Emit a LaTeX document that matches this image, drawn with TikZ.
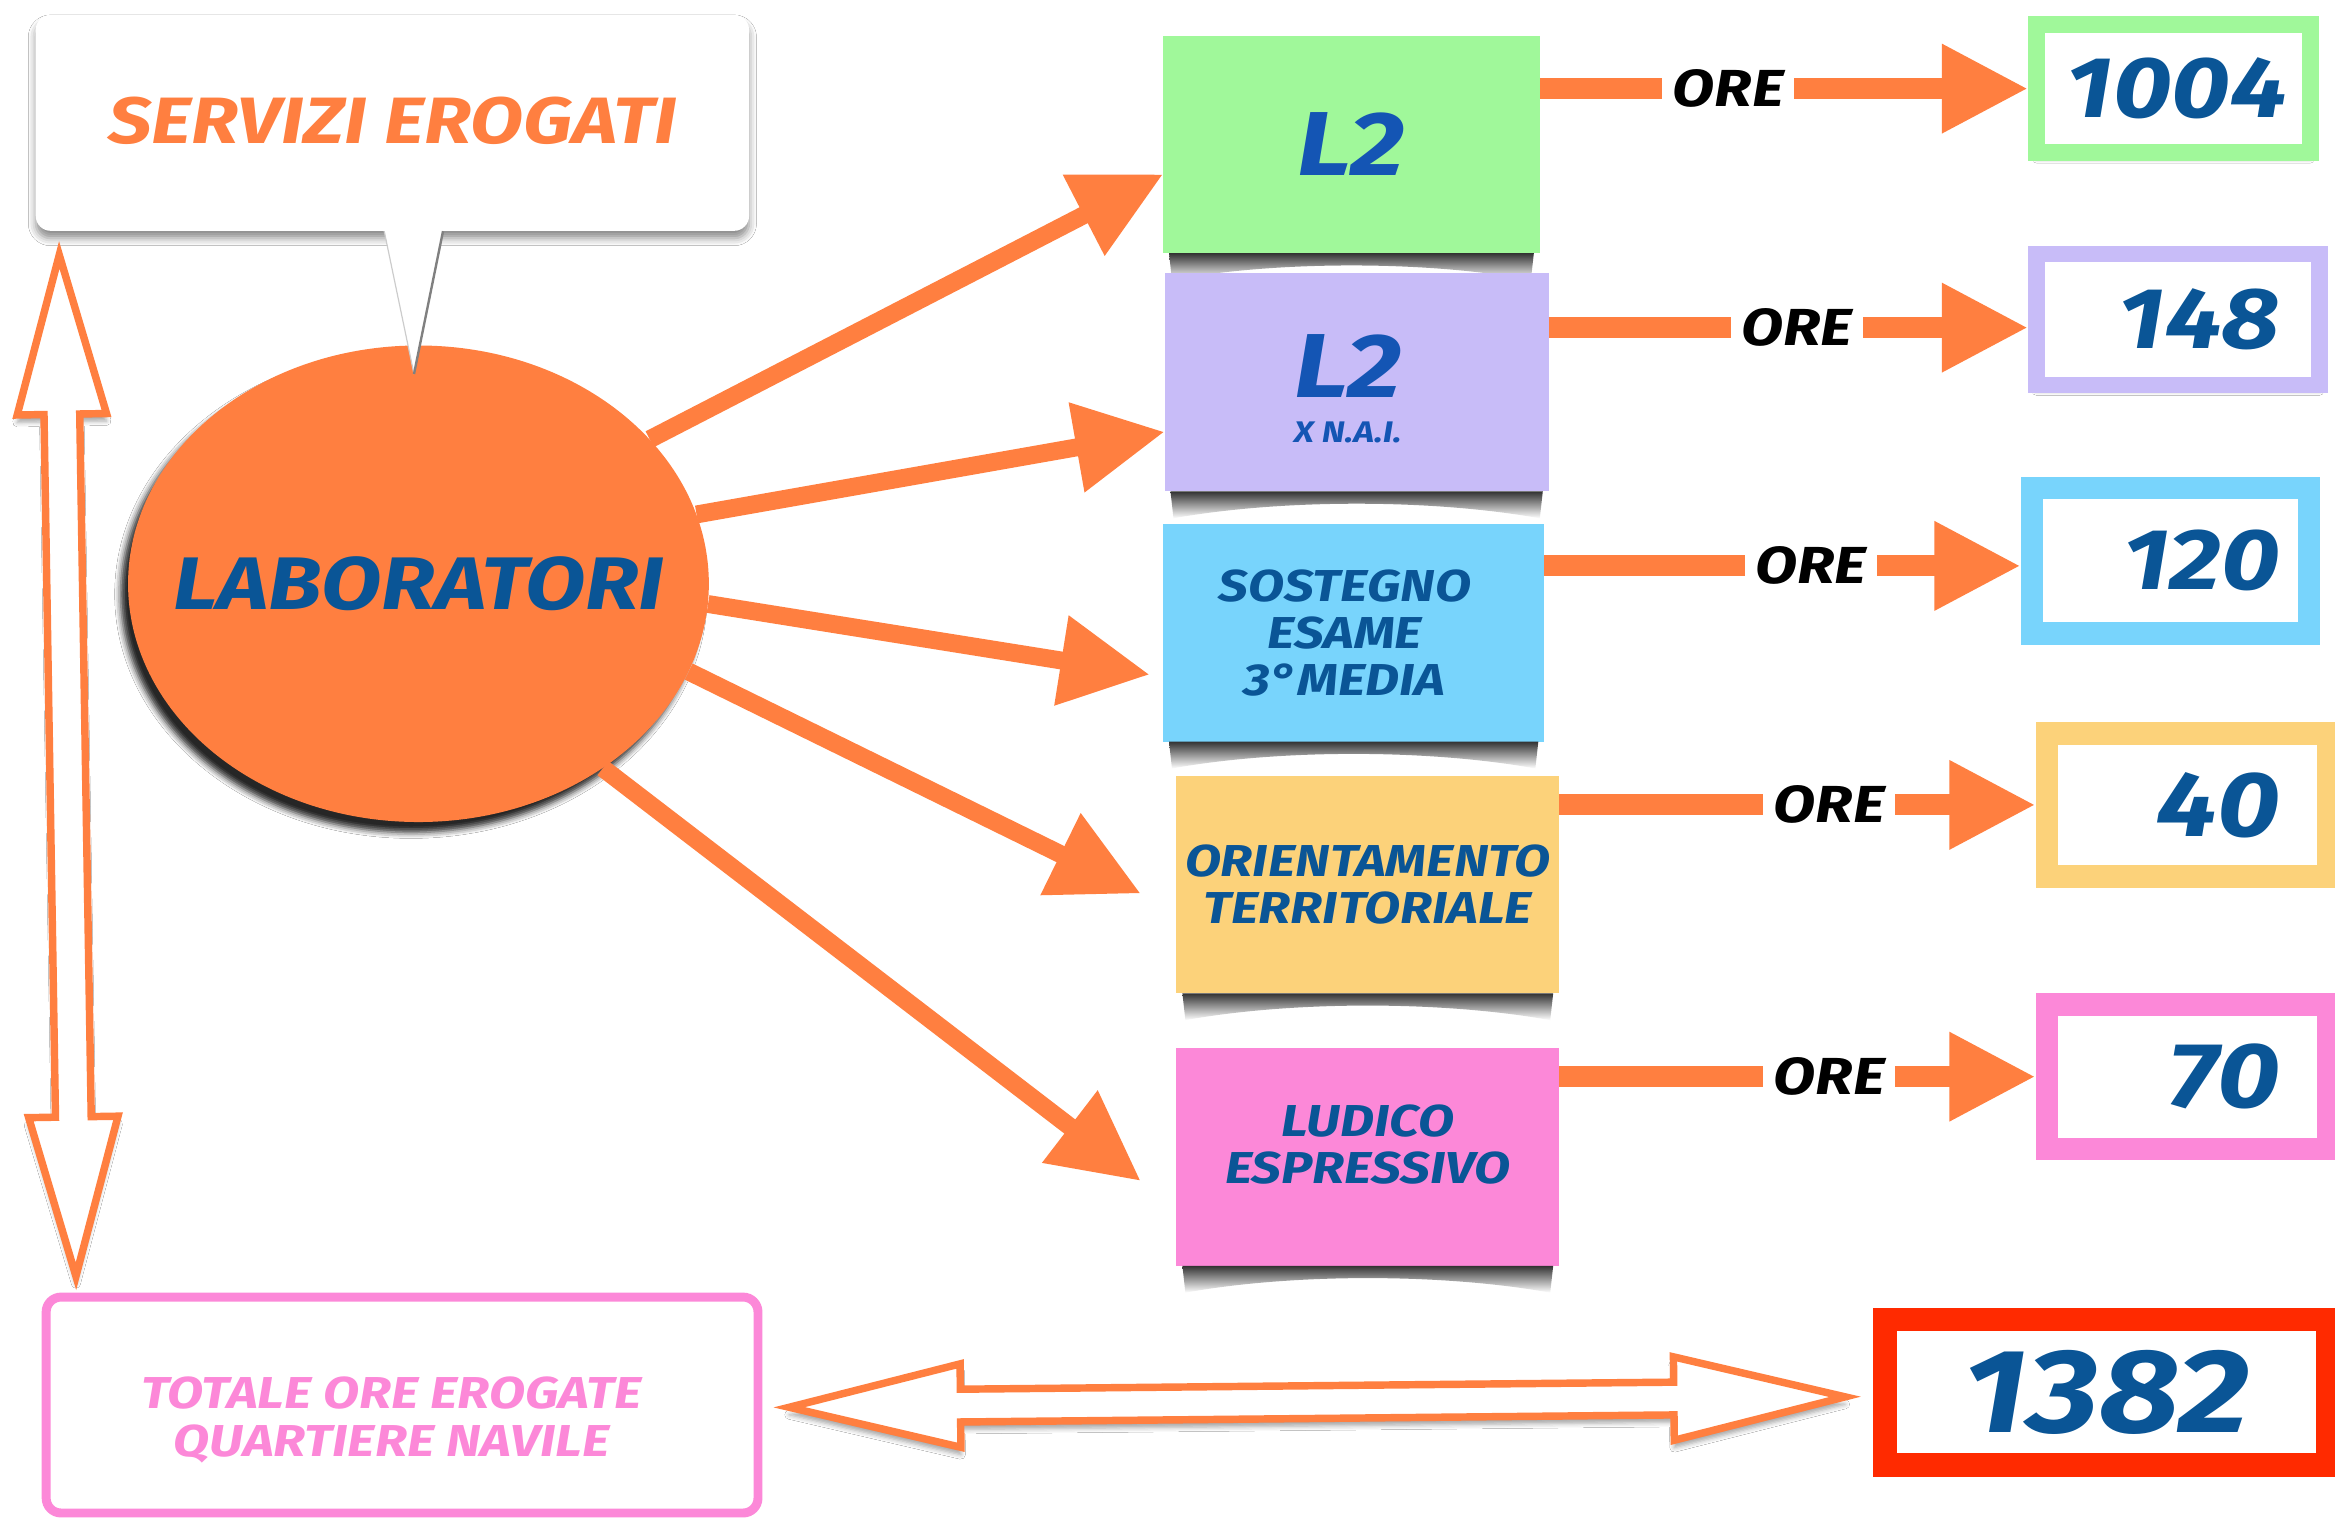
\documentclass[tikz,border=0pt]{standalone}
\usepackage{fontspec}
\setmainfont{Fira Sans}[FakeStretch=1.18]
\usetikzlibrary{arrows.meta,calc,shapes.geometric,shadows.blur}
\definecolor{org}{HTML}{FF7F40}
\definecolor{navy}{HTML}{0A5596}
\definecolor{ltb}{HTML}{1455B4}
\definecolor{pgreen}{HTML}{A0F89A}
\definecolor{ppurple}{HTML}{C8BCF8}
\definecolor{pblue}{HTML}{78D4FC}
\definecolor{pyellow}{HTML}{FCD27A}
\definecolor{ppink}{HTML}{FC88D8}
\definecolor{pred}{HTML}{FF2A00}
\newcommand\fsz[2]{\fontsize{#1}{#2}\selectfont\bfseries\itshape}
\newcommand\curlshadow[1]{%
  \shade[top color=black!80, bottom color=white]
    ($(#1.south west)+(4,0)$) -- ($(#1.south east)+(-4,0)$) -- ($(#1.south east)+(-6,18)$)
    .. controls ($(#1.south)+(50,5)$) and ($(#1.south)+(-50,5)$) .. ($(#1.south west)+(6,18)$) -- cycle;}
\tikzset{
  bubble/.style={rectangle, rounded corners=10pt, fill=white, minimum width=479pt, minimum height=145pt,
    inner sep=0pt, text=org, font=\fsz{44}{44},
    blur shadow={shadow xshift=0pt, shadow yshift=-5pt, shadow blur radius=5pt, shadow opacity=45}},
  lab/.style={ellipse, fill=org, minimum width=390pt, minimum height=320pt, inner sep=0pt,
    text=navy, font=\fsz{50}{50},
    blur shadow={shadow xshift=-5pt, shadow yshift=-7pt, shadow blur radius=4pt, shadow opacity=85}},
  postit/.style={rectangle, fill=#1, inner sep=0pt, outer sep=0pt, align=center, text=navy,
    font=\fsz{30}{31.5}},
  numbox/.style={rectangle, draw=#1, fill=white, inner sep=0pt, align=right, text=navy,
    font=\fsz{58}{58},
    blur shadow={shadow xshift=0pt, shadow yshift=-4pt, shadow blur radius=3pt, shadow opacity=35}},
  oreline/.style={draw=org, line width=14pt, -{Triangle[length=58pt,width=56pt]}},
  ray/.style={draw=org, line width=12pt, -{Triangle[length=60pt,width=58pt]}},
  orelabel/.style={fill=white, inner xsep=7pt, inner ysep=2pt, text=black, font=\fsz{35}{35}},
  hollow/.style={draw=org, line width=5pt, fill=white, line join=miter,
    blur shadow={shadow xshift=0pt, shadow yshift=-5pt, shadow blur radius=3pt, shadow opacity=35}},
  totbox/.style={rectangle, rounded corners=10pt, draw=ppink, line width=6pt, fill=white,
    minimum width=478pt, minimum height=145pt, inner sep=0pt},
}
\begin{document}
\begin{tikzpicture}[x=1pt, y=-1pt]
\fill[white] (0,0) rectangle (1568,1021);
\useasboundingbox (0,0) rectangle (1568,1021);

% speech bubble
\node[bubble] (bub) at (263.5,82.5) {\raisebox{3pt}{SERVIZI EROGATI}};

% ellipse
\node[lab] (lab) at (281,392) {\makebox[0pt]{LABORATORI}};

% bubble tail
\fill[white] ($(bub.south)+(-6,-3)$) -- ($(bub.south)+(14.5,96)$) -- ($(bub.south)+(35,-3)$) -- cycle;
\draw[gray!40, line width=0.8pt] ($(bub.south)+(-5.5,0)$) -- ($(bub.south)+(14.5,96)$);
\draw[black!50, line width=1.6pt] ($(bub.south)+(34,0)$) -- ($(bub.south)+(14.5,96)$);

% post-its, each followed by its curled shadow
\node[postit=pgreen, minimum width=253pt, minimum height=146pt, font=\fsz{61}{61}, text=ltb] (l2) at (907.5,97) {L2};
\curlshadow{l2}
\node[postit=ppurple, minimum width=258pt, minimum height=147pt, text=ltb,
  label={[text=ltb, inner sep=0pt, font=\fsz{61}{61}, yshift=11pt, xshift=-6pt]center:L2},
  label={[text=ltb, inner sep=0pt, font=\fsz{20}{20}, yshift=-34pt, xshift=-6pt]center:X N.A.I.}] (nai) at (911,256.5) {};
\curlshadow{nai}
\node[postit=pblue, minimum width=256pt, minimum height=146pt] (sos) at (909,425) {\hspace*{-12pt}SOSTEGNO\\\hspace*{-12pt}ESAME\\\hspace*{-12pt}3°MEDIA};
\curlshadow{sos}
\node[postit=pyellow, minimum width=257pt, minimum height=146pt] (ori) at (918.5,594) {ORIENTAMENTO\\TERRITORIALE};
\curlshadow{ori}
\node[postit=ppink, minimum width=257pt, minimum height=146pt,
  label={[text=navy, font=\fsz{30}{31.5}, align=center, yshift=8.5pt]center:LUDICO\\ESPRESSIVO}] (lud) at (918.5,777) {};
\curlshadow{lud}

% number boxes
\node[numbox=pgreen, line width=11pt, minimum width=184pt, minimum height=86pt, text width=143pt] (n1) at (1459.5,59.5) {1004};
\node[numbox=ppurple, line width=11pt, minimum width=190pt, minimum height=88pt, text width=137pt] (n2) at (1462.5,214.5) {148};
\node[numbox=pblue, line width=15pt, minimum width=186pt, minimum height=98pt, text width=147pt] (n3) at (1457.5,376.5) {120};
\node[numbox=pyellow, line width=15pt, minimum width=189pt, minimum height=96pt, text width=124pt, font=\fsz{62}{62}] (n4) at (1469,540.5) {40};
\node[numbox=ppink, line width=15pt, minimum width=189pt, minimum height=97pt, text width=124pt, font=\fsz{62}{62}] (n5) at (1469,723) {70};
\node[numbox=pred, line width=16pt, minimum width=297pt, minimum height=98pt, align=center, font=\fsz{80}{80}] (n6) at (1414.5,935) {1382};

% totale box
\node[totbox, label={[text=ppink, font=\fsz{30}{32}, align=center, yshift=-10pt, xshift=-7pt]center:TOTALE ORE EROGATE\\QUARTIERE NAVILE}] (tot) at (270,943.5) {};

% rays from ellipse
\draw[ray] (lab.32) -- ($(l2.west)+(0,20)$);
\draw[ray] (lab.14) -- ($(nai.west)+(0,33.5)$);
\draw[ray] (lab.-4) -- ($(sos.west)+(-9,28)$);
\draw[ray] (lab.-18) -- ($(ori.west)+(-24,6)$);
\draw[ray] (lab.-45) -- ($(lud.west)+(-24,16)$);

% ORE arrows
\coordinate (o1) at (n1.west);
\coordinate (o2) at ($(n2.west)+(0,5.5)$);
\coordinate (o3) at ($(n3.west)+(0,3.5)$);
\coordinate (o4) at (n4.west);
\coordinate (o5) at (n5.west);
\draw[oreline] (l2.east |- o1) -- (o1) node[orelabel, pos=0.386] {ORE};
\draw[oreline] (nai.east |- o2) -- (o2) node[orelabel, pos=0.517] {ORE};
\draw[oreline] (sos.east |- o3) -- (o3) node[orelabel, pos=0.56] {ORE};
\draw[oreline] (ori.east |- o4) -- (o4) node[orelabel, pos=0.567] {ORE};
\draw[oreline] (lud.east |- o5) -- (o5) node[orelabel, pos=0.567] {ORE};

% vertical hollow double arrow (bubble <-> totale)
\coordinate (va) at ($(bub.south west)+(16,16)$);
\coordinate (vb) at ($(tot.north west)+(23,-11)$);
\coordinate (va1) at ($(va)!107pt!(vb)$);
\coordinate (vb1) at ($(vb)!107pt!(va)$);
\draw[hollow] (va) -- ($(va1)!30pt!90:(vb)$) -- ($(va1)!12pt!90:(vb)$) -- ($(vb1)!12pt!-90:(va)$)
  -- ($(vb1)!30pt!-90:(va)$) -- (vb) -- ($(vb1)!30pt!90:(va)$) -- ($(vb1)!12pt!90:(va)$)
  -- ($(va1)!12pt!-90:(vb)$) -- ($(va1)!30pt!-90:(vb)$) -- cycle;

% horizontal hollow double arrow (totale <-> 1382)
\coordinate (ha) at ($(tot.east)+(18,1.5)$);
\coordinate (hb) at ($(n6.west)+(-19,3)$);
\coordinate (ha1) at ($(ha)!115pt!(hb)$);
\coordinate (hb1) at ($(hb)!115pt!(ha)$);
\draw[hollow] (ha) -- ($(ha1)!28pt!90:(hb)$) -- ($(ha1)!11pt!90:(hb)$) -- ($(hb1)!11pt!-90:(ha)$)
  -- ($(hb1)!28pt!-90:(ha)$) -- (hb) -- ($(hb1)!28pt!90:(ha)$) -- ($(hb1)!11pt!90:(ha)$)
  -- ($(ha1)!11pt!-90:(hb)$) -- ($(ha1)!28pt!-90:(hb)$) -- cycle;
\end{tikzpicture}
\end{document}
